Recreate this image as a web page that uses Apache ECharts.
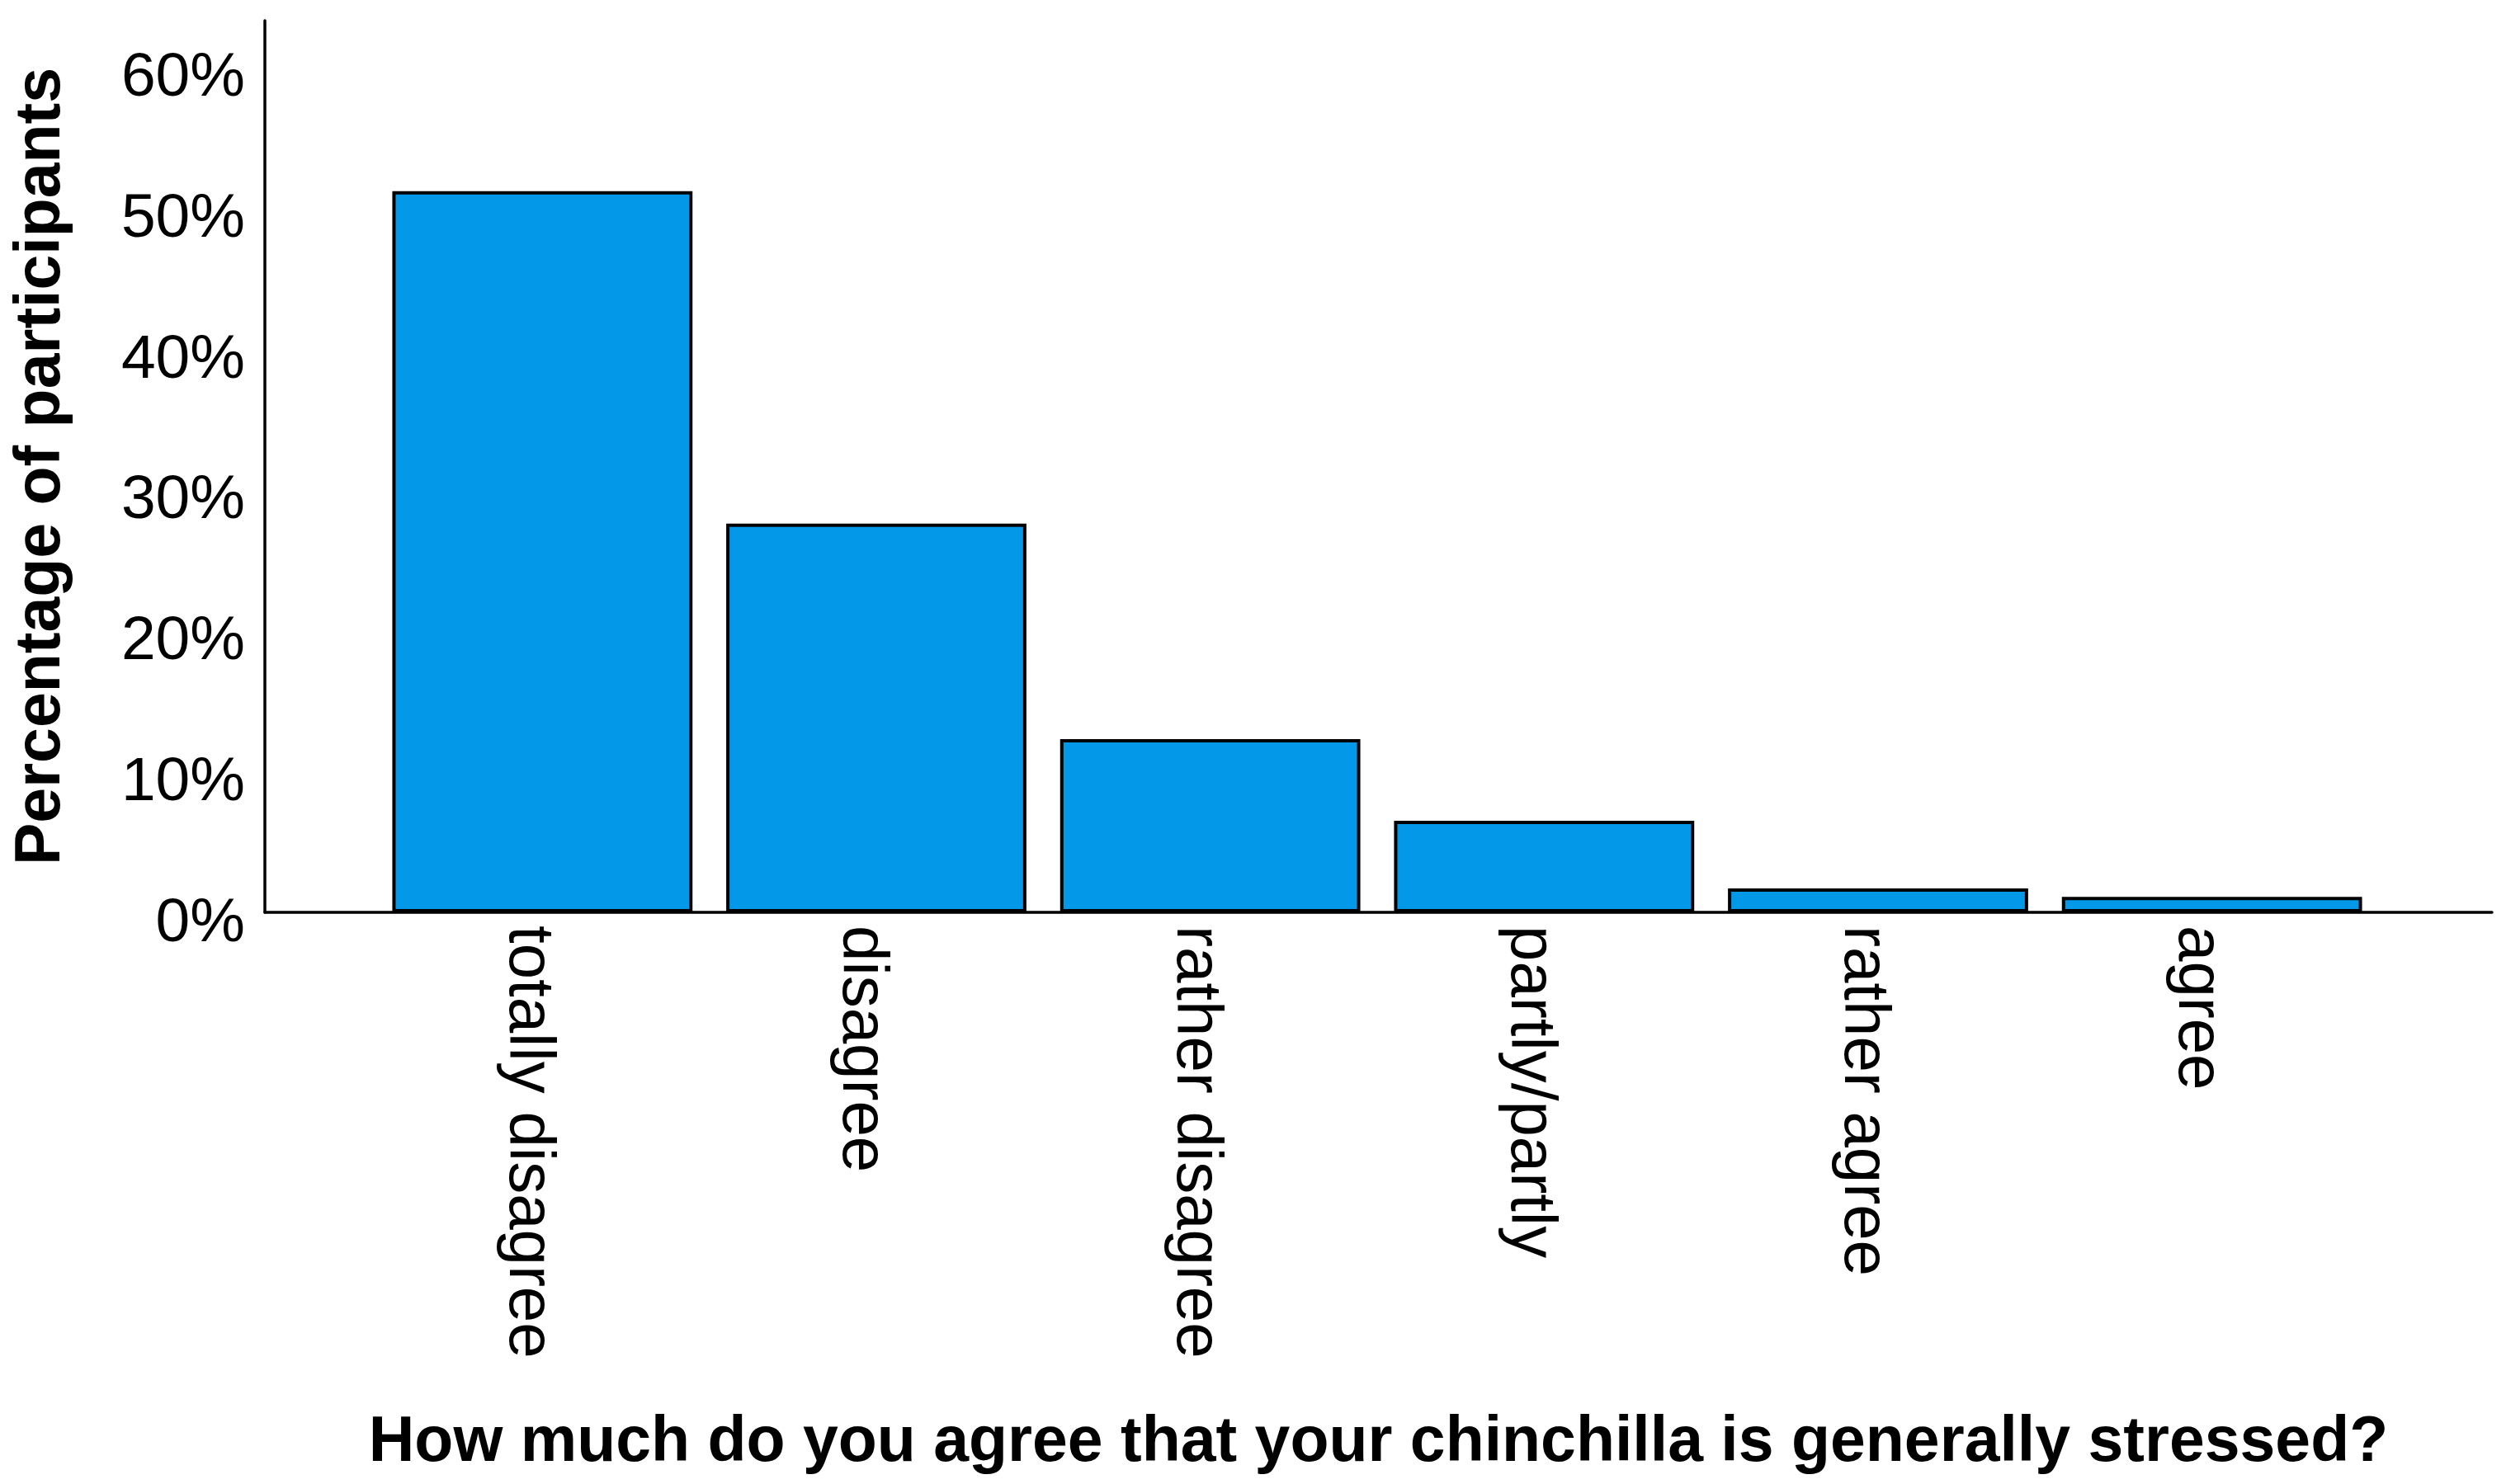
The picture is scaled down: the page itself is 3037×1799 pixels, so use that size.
<!DOCTYPE html>
<html>
<head>
<meta charset="utf-8">
<title>Chinchilla stress</title>
<script src="https://cdn.jsdelivr.net/npm/echarts@6/dist/echarts.min.js"></script>
<style>
	html, body { margin: 0; padding: 0; background: #fff; }
	#chart { width: 3037px; height: 1799px; }
</style>
</head>
<body>
<div id="chart"></div>
<script>
// answers to "How much do you agree that your chinchilla is generally stressed?"
const categories = ['totally disagree', 'disagree', 'rather disagree', 'partly/partly', 'rather agree', 'agree'];
const percentages = [51.2, 27.6, 12.3, 6.5, 1.7, 1.1];
const yMax = 63.3;
const yStep = 10;

const font = 'Liberation Sans, Arial, sans-serif';
const ink = '#000';

const myChart = echarts.init(document.getElementById('chart'), null, { renderer: 'canvas' });

// frame grid carries the axis lines and titles, bar grid is inset so the bars sit like in SPSS
const frame = { left: 321, right: 17, top: 25, bottom: 693 };
const bars = { left: 455, right: 154, top: 25, bottom: 693 };

const option = {
	backgroundColor: '#fff',
	animation: false,
	grid: [
		Object.assign({ containLabel: false, outerBoundsMode: 'none' }, frame),
		Object.assign({ containLabel: false, outerBoundsMode: 'none' }, bars)
	],
	xAxis: [{
		gridIndex: 0,
		type: 'value',
		min: 0,
		max: 1,
		axisLine: { show: true, onZero: false, lineStyle: { color: ink, width: 3.5 } },
		axisTick: { show: false },
		axisLabel: { show: false },
		splitLine: { show: false },
		name: 'How much do you agree that your chinchilla is generally stressed?',
		nameLocation: 'middle',
		nameGap: 605,
		nameTextStyle: { fontFamily: font, fontSize: 77, fontWeight: 'bold', color: ink }
	}, {
		gridIndex: 1,
		type: 'category',
		data: categories,
		axisLine: { show: false },
		axisTick: { show: false },
		axisLabel: {
			rotate: -90,
			interval: 0,
			margin: 16,
			verticalAlign: 'top',
			lineHeight: 36,
			fontFamily: font,
			fontSize: 78,
			color: ink
		}
	}],
	yAxis: [{
		gridIndex: 0,
		type: 'value',
		min: 0,
		max: yMax,
		interval: yStep,
		axisLine: { show: true, lineStyle: { color: ink, width: 3.5 } },
		axisTick: { show: false },
		splitLine: { show: false },
		axisLabel: {
			margin: 24,
			verticalAlign: 'top',
			lineHeight: 28,
			fontFamily: font,
			fontSize: 75,
			color: ink,
			formatter: (v) => (v % yStep === 0 ? v + '%' : '')
		},
		name: 'Percentage of participants',
		nameLocation: 'middle',
		nameGap: 232,
		nameTextStyle: { fontFamily: font, fontSize: 77, fontWeight: 'bold', color: ink }
	}, {
		gridIndex: 1,
		type: 'value',
		min: 0,
		max: yMax,
		show: false
	}],
	series: [{
		type: 'bar',
		xAxisIndex: 1,
		yAxisIndex: 1,
		data: percentages,
		barCategoryGap: '10.1%',
		itemStyle: {
			color: '#0398e8',
			borderColor: ink,
			borderWidth: 4
		}
	}]
};

myChart.setOption(option);
</script>
</body>
</html>
